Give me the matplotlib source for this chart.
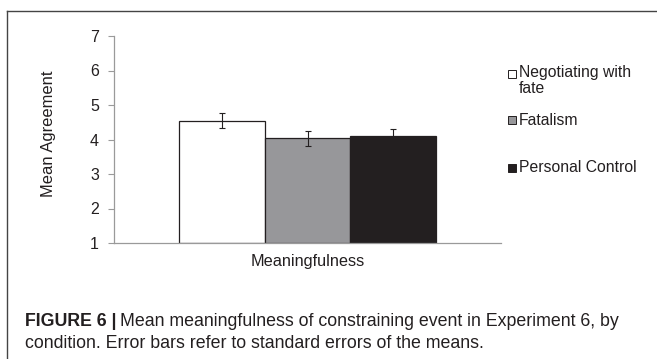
import matplotlib
matplotlib.use("Agg")
import matplotlib.pyplot as plt
from matplotlib.lines import Line2D
from matplotlib.patches import Rectangle

# condition means and standard errors
conditions = ["Negotiating with\nfate", "Fatalism", "Personal Control"]
means = [4.55, 4.03, 4.10]
errors = [0.22, 0.21, 0.19]
colors = ["#ffffff", "#97979a", "#231f20"]
category = "Meaningfulness"
yticks = [1, 2, 3, 4, 5, 6, 7]

plt.rcParams["font.family"] = ["Liberation Sans", "DejaVu Sans"]
ink = "#231f20"

fig = plt.figure(figsize=(6.57, 3.59), dpi=100)
ax = fig.add_axes([114 / 657, 1 - 243 / 359, 387 / 657, 207 / 359])

w = 0.222
offsets = [-w, 0.0, w]
for off, m, e, c in zip(offsets, means, errors, colors):
    ax.bar(off, m - 1, bottom=1, width=w, color=c, edgecolor=ink, linewidth=0.9)
    ax.errorbar(off, m, yerr=e, color=ink, capsize=2.3, elinewidth=0.8, capthick=0.8)

ax.set_xlim(-0.5, 0.5)
ax.set_ylim(1, 7)
ax.set_yticks(yticks)
ax.set_yticklabels([str(t) for t in yticks], fontsize=11.5, color=ink)
ax.set_xticks([])
ax.set_xlabel(category, fontsize=11.7, color=ink, va="top")
ax.xaxis.set_label_coords(0.5, -0.055)
ax.set_ylabel("Mean Agreement", fontsize=11.9, color=ink)
ax.yaxis.set_label_coords(-0.15, 0.527)
for s in ["top", "right"]:
    ax.spines[s].set_visible(False)
for s in ["left", "bottom"]:
    ax.spines[s].set_color("#9a9a9a")
    ax.spines[s].set_linewidth(0.9)
ax.tick_params(axis="y", length=4.3, width=0.8, color="#9a9a9a", pad=6.5)

# legend, laid out like the spreadsheet original (uneven slots)
leg_y = [74, 120, 168]
for lab, c, y in zip(conditions, colors, leg_y):
    fig.add_artist(Rectangle((508 / 657, 1 - (y + 4) / 359), 8 / 657, 8 / 359,
                             transform=fig.transFigure, facecolor=c, edgecolor=ink,
                             linewidth=0.7))
    if "\n" in lab:
        fig.text(519 / 657, 1 - (y - 9) / 359, lab, fontsize=11.3, color=ink,
                 va="top", linespacing=1.05)
    else:
        fig.text(519 / 657, 1 - y / 359, lab, fontsize=11.3, color=ink, va="center")

# outer frame
fig.add_artist(Line2D([7 / 657, 7 / 657], [0, 1 - 11 / 359], transform=fig.transFigure,
                      color="#444444", linewidth=1.0))
fig.add_artist(Line2D([7 / 657, 1], [1 - 11 / 359, 1 - 11 / 359], transform=fig.transFigure,
                      color="#444444", linewidth=1.0))

# caption: bold lead-in, regular text right after it
lead = fig.text(25 / 657, 1 - 322 / 359, "FIGURE 6 |", fontsize=12.8, fontweight="bold",
                color=ink, va="center")
bb = lead.get_window_extent(renderer=fig.canvas.get_renderer())
fig.text((bb.x1 + 4) / 657, 1 - 322 / 359,
         "Mean meaningfulness of constraining event in Experiment 6, by",
         fontsize=12.8, color=ink, va="center")
fig.text(25 / 657, 1 - 343 / 359,
         "condition. Error bars refer to standard errors of the means.",
         fontsize=12.8, color=ink, va="center")

fig.savefig("out.png", dpi=100)
